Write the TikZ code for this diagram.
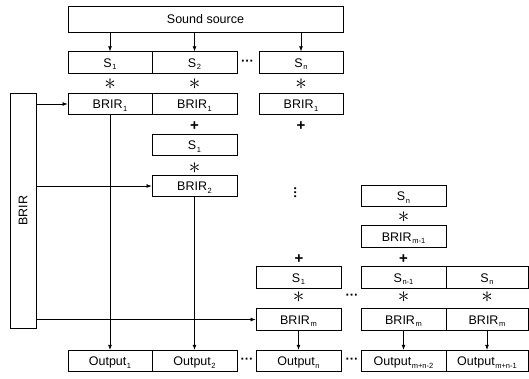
\documentclass[tikz,border=0pt]{standalone}
\usepackage{fontspec}
\setmainfont{Liberation Sans}
\usetikzlibrary{arrows.meta}
\newcommand{\sbs}[1]{\kern0.6pt\raisebox{-0.4ex}{\fontsize{7.5}{8}\selectfont #1}}
\newcommand{\astsym}{\scalebox{2.3}{$\ast$}}
\begin{document}
\begin{tikzpicture}[x=1pt,y=-1pt,
  box/.style={draw, line width=0.75pt, minimum width=#1, minimum height=21.5pt, inner sep=0pt,
    text height=9.2pt, text depth=0pt, font=\fontsize{12.5}{14}\selectfont},
  box/.default=84.5pt,
  opast/.style={inner sep=0pt, font=\normalsize},
  opplus/.style={inner sep=0pt, font=\fontsize{15}{15}\selectfont\bfseries},
  dots/.style={inner sep=0pt, font=\fontsize{13}{13}\selectfont\bfseries},
  arr/.style={line width=0.65pt, -{Latex[length=5pt,width=3.8pt]}}]
\useasboundingbox (0,0) rectangle (529,378);
% sound source
\node[box=275pt, minimum height=26pt] (src) at (205.5,19) {Sound source};
% S row
\node[box=84pt] (s1) at (110,62.5) {S\sbs{1}};
\node[box=85pt] (s2) at (194.5,62.5) {S\sbs{2}};
\node[box=84pt] (sn) at (301,62.5) {S\sbs{n}};
\node[dots] (d1) at (247.5,62.5) {···};
\node[opast] (a1) at (110,84) {\astsym};
\node[opast] (a2) at (194.5,84) {\astsym};
\node[opast] (a3) at (301,84) {\astsym};
% BRIR1 row
\node[box=84pt] (b11) at (110,104) {BRIR\sbs{1}};
\node[box=85pt] (b12) at (194.5,104) {BRIR\sbs{1}};
\node[box=84pt] (b13) at (301,104) {BRIR\sbs{1}};
\node[opplus] (p2) at (194.5,126) {+};
\node[opplus] (p3) at (301,126) {+};
% column 2 second
\node[box=85pt] (s21) at (194.5,145) {S\sbs{1}};
\node[opast] (a4) at (194.5,168) {\astsym};
\node[box=85pt, minimum height=21pt] (b22) at (194.5,186) {BRIR\sbs{2}};
\node[dots, rotate=90] (vd) at (297,192.5) {···};
% right column upper
\node[box=85pt, minimum height=20.5pt] (snr) at (403.5,196) {S\sbs{n}};
\node[opast] (a5) at (403.5,217) {\astsym};
\node[box=85pt] (bm1) at (403.5,236.5) {BRIR\sbs{m-1}};
\node[opplus] (p4) at (299,259) {+};
\node[opplus] (p5) at (403.5,259) {+};
% lower S row
\node[box=85pt] (s31) at (298.5,277.5) {S\sbs{1}};
\node[box=85pt] (s3a) at (403.5,277.5) {S\sbs{n-1}};
\node[box=82pt] (s3b) at (487,277.5) {S\sbs{n}};
\node[opast] (a6) at (298.5,297) {\astsym};
\node[opast] (a7) at (403.5,297) {\astsym};
\node[opast] (a8) at (487,297) {\astsym};
\node[dots] (d4) at (352,296.5) {···};
% BRIRm row
\node[box=85pt] (bm3) at (298.5,319.5) {BRIR\sbs{m}};
\node[box=85pt] (bm4) at (403.5,319.5) {BRIR\sbs{m}};
\node[box=82pt] (bm5) at (487,319.5) {BRIR\sbs{m}};
% outputs
\node[box=84pt] (o1) at (110,361) {Output\sbs{1}};
\node[box=85pt] (o2) at (194.5,361) {Output\sbs{2}};
\node[box=85pt] (on) at (298.5,361) {Output\sbs{n}};
\node[box=85pt] (om2) at (403.5,361) {Output\sbs{m+n-2}};
\node[box=82pt] (om1) at (487,361) {Output\sbs{m+n-1}};
\node[dots] (d2) at (247,361) {···};
\node[dots] (d3) at (352,361) {···};
% BRIR bank
\node[draw, line width=0.75pt, minimum width=26pt, minimum height=235pt, inner sep=0pt,
  font=\fontsize{12.5}{14}\selectfont] (brir) at (23,210.5) {\rotatebox{90}{BRIR}};
% connectors
\draw[arr] (src.south -| s1) -- (s1.north);
\draw[arr] (src.south -| s2) -- (s2.north);
\draw[arr] (src.south -| sn) -- (sn.north);
\draw[arr] (brir.east |- b11) -- (b11.west);
\draw[arr] (brir.east |- b22) -- (b22.west);
\draw[arr] (brir.east |- bm3) -- (bm3.west);
\draw[arr] (b11.south) -- (o1.north);
\draw[arr] (b22.south) -- (o2.north);
\draw[arr] (bm3.south) -- (on.north);
\draw[arr] (bm4.south) -- (om2.north);
\draw[arr] (bm5.south) -- (om1.north);
\end{tikzpicture}
\end{document}
